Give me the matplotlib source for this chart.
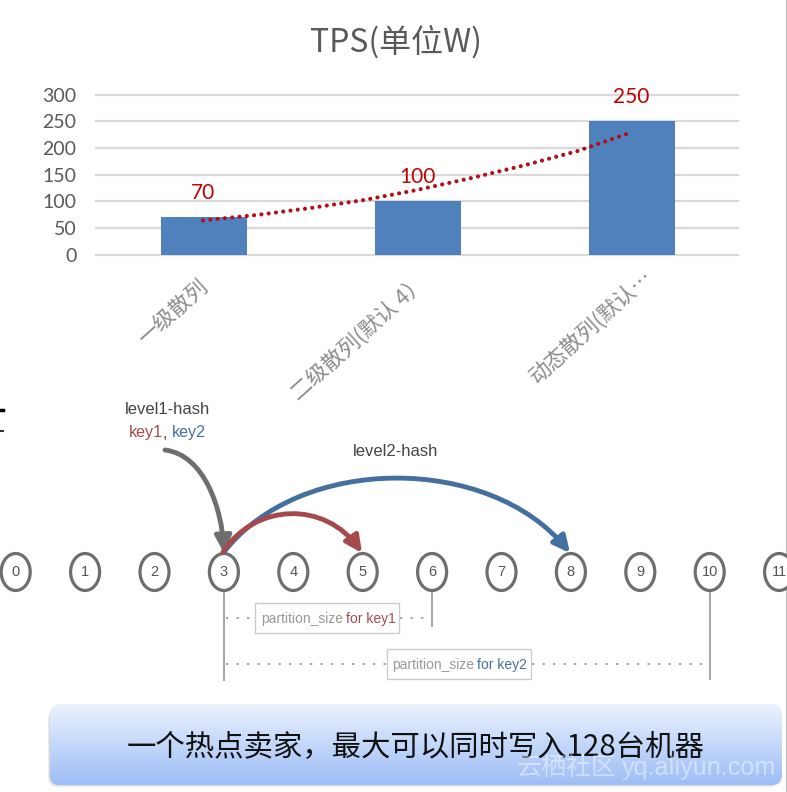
#!/usr/bin/env python
# -*- coding: utf-8 -*-
import numpy as np
import matplotlib
matplotlib.use("Agg")
import matplotlib.pyplot as plt
from matplotlib.patches import Ellipse, FancyArrowPatch, FancyBboxPatch, Rectangle
from matplotlib.path import Path
from matplotlib.transforms import ScaledTranslation

plt.rcParams['font.family'] = ['Noto Sans CJK SC', 'DejaVu Sans']

# chart data
categories = ["一级散列", "二级散列(默认 4）", "动态散列(默认…"]
tps_values = [70, 100, 250]
y_ticks = [0, 50, 100, 150, 200, 250, 300]
trend_x = [0.0, 0.25, 0.5, 0.75, 1.0, 1.25, 1.5, 1.75, 1.98]
trend_y = [64, 74, 87, 102, 121, 143, 167, 194, 226]

# diagram data
node_labels = ["0", "1", "2", "3", "4", "5", "6", "7", "8", "9", "10", "11"]

GRID = "#d9d9d9"
BAR = "#4f81bd"
DARK_RED = "#c00000"
TICK = "#595959"
RED = "#a5494c"
BLUE = "#44709f"
GRAY = "#6e6e6e"
LINE = "#a3a3a3"
SANS = ['Liberation Sans', 'DejaVu Sans']
LATO = ['Lato', 'DejaVu Sans']
W, H = 787, 792

fig = plt.figure(figsize=(W / 100, H / 100), dpi=100, facecolor="white")

'''
bar chart, axes placed in pixels
'''
ax = fig.add_axes([96 / W, 1 - 254.5 / H, 642 / W, 160 / H])
x = np.arange(len(categories))
ax.set_xlim(-0.5, 2.5)
ax.set_ylim(0, 300)
ax.set_axisbelow(True)
ax.yaxis.grid(True, color=GRID, lw=1.6)
for gl in ax.get_ygridlines():
    gl.set_clip_on(False)
ax.bar(x + 0.005, tps_values, width=0.404, color=BAR, zorder=2)
ax.plot(trend_x, trend_y, color="#b0101c", lw=3.0, ls=(0, (0.01, 1.75)),
        dash_capstyle="round", zorder=3)
for s in ax.spines.values():
    s.set_visible(False)
ax.set_yticks(y_ticks)
ax.set_yticklabels([str(t) for t in y_ticks], family=LATO, fontsize=14, color=TICK)
ax.tick_params(axis="y", length=0, pad=14)
ax.set_xticks(x)
ax.set_xticklabels(categories, rotation=42, ha="right", rotation_mode="anchor",
                   fontsize=15.5, color="#8c8c8c")
ax.tick_params(axis="x", length=0, pad=20)
# excel places each cut label on its own, nudge them (points)
label_nudge = [(-3.6, 4.3), (-0.7, 7.9), (7.9, 12.2)]
for lab, (dx, dy) in zip(ax.get_xticklabels(), label_nudge):
    lab.set_transform(lab.get_transform() + ScaledTranslation(dx / 72, dy / 72, fig.dpi_scale_trans))
for i, v in enumerate(tps_values):
    ax.annotate(str(v), (i, v), xytext=(0, 17.5), textcoords="offset points", ha="center",
                va="center", family=LATO, fontsize=15, color=DARK_RED, zorder=5)
fig.text(396 / W, 1 - 42 / H, "TPS(单位W)", ha="center", va="center", fontsize=23, color=TICK)

'''
overlay in pixel coordinates for the hash diagram and the banner
'''
ov = fig.add_axes([0, 0, 1, 1], facecolor="none")
ov.set_xlim(0, W)
ov.set_ylim(H, 0)
ov.axis("off")

ov.plot([786, 786], [0, H], color="#bdbdbd", lw=1)
ov.plot([0, 3], [410, 410], color="black", lw=2.5)
ov.plot([0, 3], [431, 431], color="#333333", lw=1.5)

node_y = 572
node_x = [15.7 + 69.4 * i for i in range(len(node_labels))]


def curve(p0, c1, c2, p1):
    return Path([p0, c1, c2, p1], [Path.MOVETO, Path.CURVE4, Path.CURVE4, Path.CURVE4])


# leader lines below the nodes
for idx, bottom in [(3, 680), (6, 626), (10, 679)]:
    ov.plot([node_x[idx]] * 2, [node_y + 19, bottom], color=LINE, lw=1.4, zorder=1)

for y, spans in [(618, [(226, 255), (400, 430)]), (664, [(226, 387), (532, 706)])]:
    for a, b in spans:
        ov.plot([a, b], [y, y], color=LINE, lw=1.4, ls=(0, (1.2, 4.2)), zorder=1)

for (bx, by, bw, bh) in [(255, 603, 144, 30), (387, 649, 144, 30)]:
    ov.add_patch(Rectangle((bx, by), bw, bh, fc="white", ec="#cccccc", lw=1, zorder=2))

ov.text(261, 619, "partition_size", family=SANS, fontsize=10, color="#999999", va="center", zorder=3)
ov.text(346, 619, "for key1", family=SANS, fontsize=10, color=RED, va="center", zorder=3)
ov.text(392, 665, "partition_size", family=SANS, fontsize=10, color="#999999", va="center", zorder=3)
ov.text(477, 665, "for key2", family=SANS, fontsize=10, color=BLUE, va="center", zorder=3)

for nx, lab in zip(node_x, node_labels):
    ov.add_patch(Ellipse((nx, node_y), 29, 37, fc="white", ec=GRAY, lw=2.3, zorder=4))
    ov.text(nx, node_y, lab, family=SANS, fontsize=10.5, color="#555555",
            ha="center", va="center", zorder=5)

arrows = [
    (curve((165, 450), (205, 455), (222, 510), (224, 553)), GRAY),
    (curve((224, 552), (300, 454), (490, 454), (570, 553)), BLUE),
    (curve((223, 552), (255, 503), (325, 500), (362, 553)), RED),
]
for p, col in arrows:
    ov.add_patch(FancyArrowPatch(path=p, arrowstyle="-|>,head_length=0.55,head_width=0.27",
                                 mutation_scale=18, color=col, lw=3.5, zorder=6))

ov.text(168, 410, "level1-hash", family=SANS, fontsize=12, color="#444444", ha="center", va="center")
ov.text(129, 433, "key1", family=SANS, fontsize=11.6, color=RED, va="center")
ov.text(163, 433, ",", family=SANS, fontsize=11.6, color="#444444", va="center")
ov.text(172, 433, "key2", family=SANS, fontsize=11.6, color=BLUE, va="center")
ov.text(396, 451, "level2-hash", family=SANS, fontsize=12, color="#444444", ha="center", va="center")

# banner with vertical gradient and soft shadow
for off, a in [(4, 0.12), (2.5, 0.2), (1.2, 0.3)]:
    ov.add_patch(FancyBboxPatch((52 - off, 706 + off), 728 + off, 77, boxstyle="round,pad=0,rounding_size=10",
                                fc="#555555", ec="none", alpha=a, zorder=7))
box = FancyBboxPatch((50, 704), 732, 81, boxstyle="round,pad=0,rounding_size=10",
                     fc="none", ec="none", zorder=8)
ov.add_patch(box)
grad = np.linspace(0, 1, 200)[:, None, None]
top = np.array([0.925, 0.95, 0.995])
bottom = np.array([0.61, 0.74, 0.965])
img = ov.imshow(top + (bottom - top) * grad, extent=(50, 782, 785, 704), aspect="auto", zorder=8)
img.set_clip_path(box)
ov.set_xlim(0, W)
ov.set_ylim(H, 0)

ov.text(415.5, 747, "一个热点卖家，最大可以同时写入128台机器", fontsize=21.2, color="#111111",
        ha="center", va="center", zorder=9)
ov.text(517, 768, "云栖社区", fontsize=18, color="white", alpha=0.45, va="center", zorder=10)
ov.text(622, 768, "yq.aliyun.com", family=SANS, fontsize=18.2, color="white", alpha=0.45,
        va="center", zorder=10)

fig.savefig("out.png", dpi=100)
